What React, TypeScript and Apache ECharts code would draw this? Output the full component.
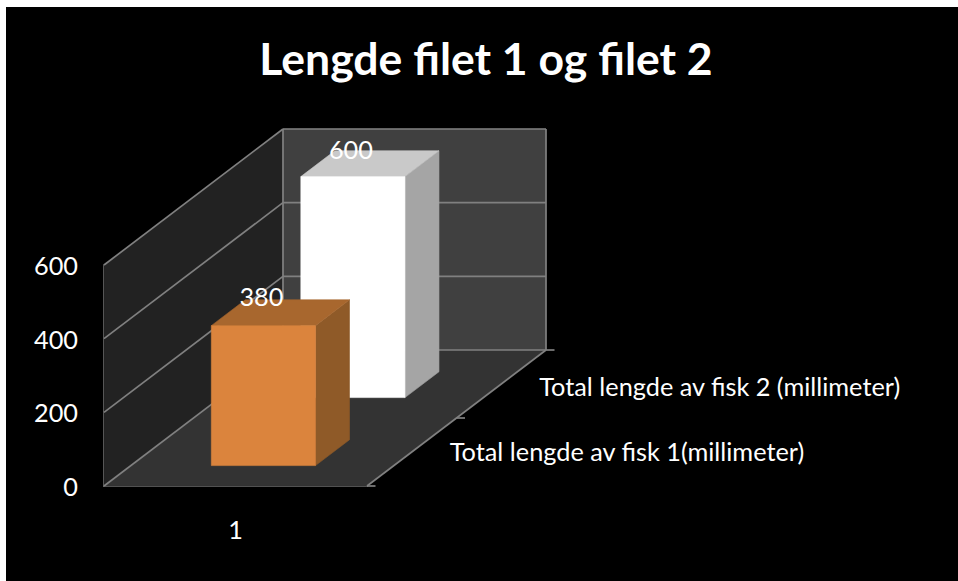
import React, { useEffect, useRef } from "react";
import * as echarts from "echarts";

const chartTitle = "Lengde filet 1 og filet 2";
const categories = ["1"];
const yTicks = [0, 200, 400, 600];
const depthNames = ["Total lengde av fisk 1(millimeter)", "Total lengde av fisk 2 (millimeter)"];
const fish1Values = [380];
const fish2Values = [600];

const FONT = "Lato, 'Open Sans', sans-serif";
const DX = 179;
const DY = -136;
const GRID = "#808080";
const LABEL_SIZE = 25.3;

function projector(api: any) {
  const base = api.coord([0, 0]);
  const size = api.size([1, 0])[0];
  const left = base[0] - size / 2;
  return (xf: number, d: number, v: number) => {
    const y = api.coord([0, v])[1];
    return [left + xf * size + d * DX, y + d * DY];
  };
}

const poly = (points: number[][], fill: string, stroke?: string) => ({
  type: "polygon",
  shape: { points },
  style: { fill, stroke: stroke || fill, lineWidth: 0.6 },
});
const seg = (a: number[], b: number[], w = 1.7) => ({
  type: "line",
  shape: { x1: a[0], y1: a[1], x2: b[0], y2: b[1] },
  style: { stroke: GRID, lineWidth: w },
});

function renderWalls(_: any, api: any) {
  const p = projector(api);
  const max = api.value(1);
  return {
    type: "group",
    children: [
      poly([p(0, 0, 0), p(1, 0, 0), p(1, 1, 0), p(0, 1, 0)], "#333333"),
      poly([p(0, 0, 0), p(0, 1, 0), p(0, 1, max), p(0, 0, max)], "#222222"),
      poly([p(0, 1, 0), p(1, 1, 0), p(1, 1, max), p(0, 1, max)], "#404040"),
    ],
  };
}

function renderGridLine(_: any, api: any) {
  const p = projector(api);
  const v = api.value(1);
  return {
    type: "group",
    children: [seg(p(0, 0, v), p(0, 1, v)), seg(p(0, 1, v), p(1, 1, v))],
  };
}

function renderFrame(_: any, api: any) {
  const p = projector(api);
  const max = api.value(1);
  const tick = (a: number[]) => seg(a, [a[0] + 8.5, a[1]]);
  return {
    type: "group",
    children: [
      seg(p(0, 1, 0), p(0, 1, max)),
      seg(p(1, 1, 0), p(1, 1, max)),
      seg(p(1, 0, 0), p(1, 1, 0)),
      tick(p(1, 0, 0)),
      tick(p(1, 0.5, 0)),
      tick(p(1, 1, 0)),
    ],
  };
}

const X0 = 0.306;
const X1 = 0.702;
const BAR_DEPTH = 0.19;

function bar3d(
  depthCentre: number,
  labelDepth: number,
  label: string,
  valueLift: number,
  nameDy: number,
  front: string,
  top: string,
  side: string,
) {
  return (_: any, api: any) => {
    const p = projector(api);
    const v = api.value(1);
    const d0 = depthCentre - BAR_DEPTH / 2;
    const d1 = depthCentre + BAR_DEPTH / 2;
    const topFront = p((X0 + X1) / 2, d0, v);
    const edge = p(1, labelDepth, 0);
    return {
      type: "group",
      children: [
        poly([p(X1, d0, 0), p(X1, d1, 0), p(X1, d1, v), p(X1, d0, v)], side),
        poly([p(X0, d0, v), p(X1, d0, v), p(X1, d1, v), p(X0, d1, v)], top),
        poly([p(X0, d0, 0), p(X1, d0, 0), p(X1, d0, v), p(X0, d0, v)], front),
        {
          type: "text",
          x: topFront[0] - 2,
          y: topFront[1] - valueLift,
          z2: 10,
          style: { text: String(v), fill: "#ffffff", font: `${LABEL_SIZE}px ${FONT}`, align: "center", verticalAlign: "middle" },
        },
        {
          type: "text",
          x: edge[0] + 38,
          y: edge[1] + nameDy,
          style: { text: label, fill: "#ffffff", font: `${LABEL_SIZE}px ${FONT}`, align: "left", verticalAlign: "middle" },
        },
      ],
    };
  };
}

export default function App() {
  const ref = useRef<HTMLDivElement>(null);
  useEffect(() => {
    document.body.style.margin = "0";
    const chart = echarts.init(ref.current!, undefined, { renderer: "svg" });
    const maxV = yTicks[yTicks.length - 1];
    const custom = (name: string, data: any[], renderItem: any, z: number) => ({
      type: "custom",
      name,
      data,
      renderItem,
      z,
      silent: true,
      clip: false,
      encode: { x: 0, y: 1 },
    });
    chart.setOption({
      animation: false,
      backgroundColor: "#ffffff",
      graphic: [
        { type: "rect", z: -10, silent: true, shape: { x: 6, y: 7, width: 952, height: 574 }, style: { fill: "#000000" } },
      ],
      title: {
        text: chartTitle,
        left: 481,
        top: 30,
        textAlign: "center",
        textStyle: { color: "#ffffff", fontFamily: FONT, fontWeight: "bold", fontSize: 44.5 },
      },
      grid: { left: 104, top: 265, width: 263, height: 221 },
      xAxis: {
        type: "category",
        data: categories,
        axisLine: { show: true, lineStyle: { color: GRID, width: 1.7 } },
        axisTick: { show: false },
        axisLabel: { color: "#ffffff", fontFamily: FONT, fontSize: LABEL_SIZE, margin: 30 },
      },
      yAxis: {
        type: "value",
        min: 0,
        max: maxV,
        interval: 200,
        splitLine: { show: false },
        axisLine: { show: true, lineStyle: { color: GRID, width: 1.7 } },
        axisTick: { show: false },
        axisLabel: { color: "#ffffff", fontFamily: FONT, fontSize: LABEL_SIZE, margin: 26, padding: [0, 0, 3, 0] },
      },
      series: [
        custom("walls", [[0, maxV]], renderWalls, 1),
        custom("grid", yTicks.map((t) => [0, t]), renderGridLine, 2),
        custom("frame", [[0, maxV]], renderFrame, 2),
        custom(depthNames[1], fish2Values.map((v) => [0, v]), bar3d(0.745, 0.75, depthNames[1], 28, 2, "#ffffff", "#c9c9c9", "#a5a5a5"), 3),
        custom(depthNames[0], fish1Values.map((v) => [0, v]), bar3d(0.245, 0.25, depthNames[0], 30, -1, "#db843d", "#a8672e", "#8f5a28"), 4),
      ],
    });
    return () => chart.dispose();
  }, []);
  return <div ref={ref} style={{ width: 958, height: 581 }} />;
}
